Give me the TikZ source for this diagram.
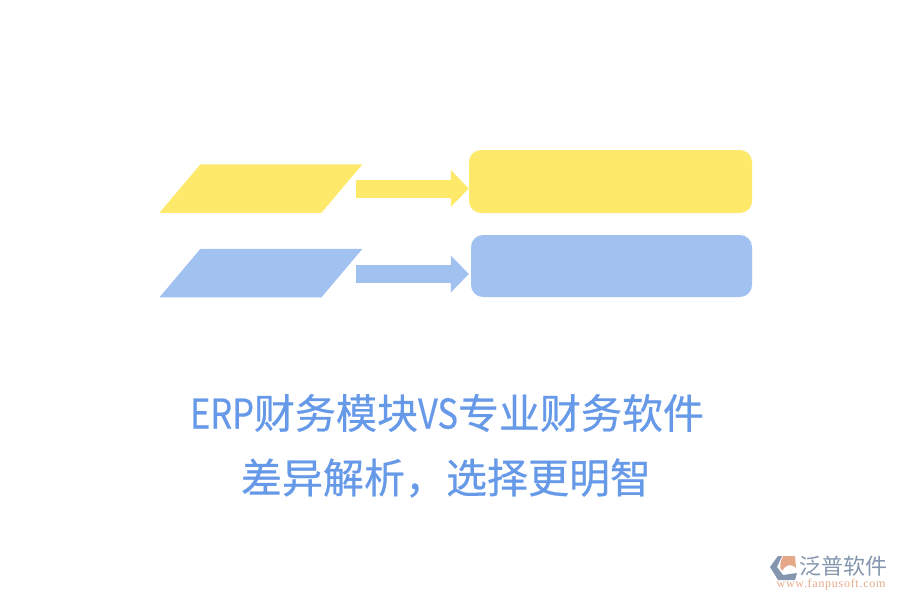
\documentclass[tikz,border=0pt]{standalone}
\usepackage{fontspec}
\setmainfont{Liberation Serif}
\newfontfamily\cjk[FakeBold=0.5]{Noto Sans CJK SC}
\newfontfamily\cjklat[FakeStretch=0.84,FakeBold=0.5]{Noto Sans CJK SC}
\newfontfamily\logofont{Noto Sans CJK SC}
\newfontfamily\urlfont[LetterSpace=6]{Liberation Serif}
\usetikzlibrary{arrows.meta}
\definecolor{ylw}{HTML}{FFE96B}
\definecolor{blu}{HTML}{A1C1F0}
\definecolor{ttl}{HTML}{6699E8}
\definecolor{lgray}{HTML}{8496AE}
\definecolor{lorg}{HTML}{E5A98A}
\tikzset{
  x=1pt, y=-1pt,
  para/.style = {inner sep=0pt, transform shape, xslant=0.845, minimum width=162pt, minimum height=48.5pt},
  rbox/.style = {inner sep=0pt, rounded corners=12pt},
  blockarr/.style = {line width=18pt, -{Triangle[length=18pt,width=37pt,line width=0pt]}, shorten <=14pt},
  title/.style = {font=\cjk\fontsize{41}{41}\selectfont, text=ttl, inner sep=0pt},
}
\begin{document}
\begin{tikzpicture}
	\useasboundingbox (0,0) rectangle (900,600);
	% top row
	\node [para, fill=ylw] (para1) at (261,188.5) {};
	\node [rbox, fill=ylw, minimum width=283pt, minimum height=63pt] (box1) at (610.5,181.5) {};
	\draw [blockarr, ylw] (para1.east) -- (para1.east -| box1.west);
	% bottom row
	\node [para, fill=blu] (para2) at (261,273) {};
	\node [rbox, fill=blu, minimum width=281pt, minimum height=62pt] (box2) at (611.5,266) {};
	\draw [blockarr, blu, shorten >=2pt] ([yshift=-1pt]para2.east) -- ([yshift=-1pt]para2.east -| box2.west);
	% title
	\node [title] (line1) at (447,413) {{\cjklat ERP}财务模块{\cjklat VS}专业财务软件};
	\node [title] (line2) at (446,478) {差异解析，选择更明智};
	% logo
	\fill [lgray] (778,556) -- (770,567) -- (778,580) -- (795,580) -- (797,573) -- (783,575) -- (777,567) -- (782,556) -- cycle;
	\fill [lorg] (783,556) -- (795,556) -- (796,568) .. controls (791,563) and (785,565) .. (782,571) .. controls (779,567) and (780,562) .. cycle;
	\node [font=\logofont\fontsize{22}{22}\selectfont, text=lgray, inner sep=0pt] (logotext) at (843,566) {泛普软件};
	\node [font=\urlfont\fontsize{12}{12}\selectfont, text=lorg, inner sep=0pt] (logourl) at (831,585) {www.fanpusoft.com};
\end{tikzpicture}
\end{document}
